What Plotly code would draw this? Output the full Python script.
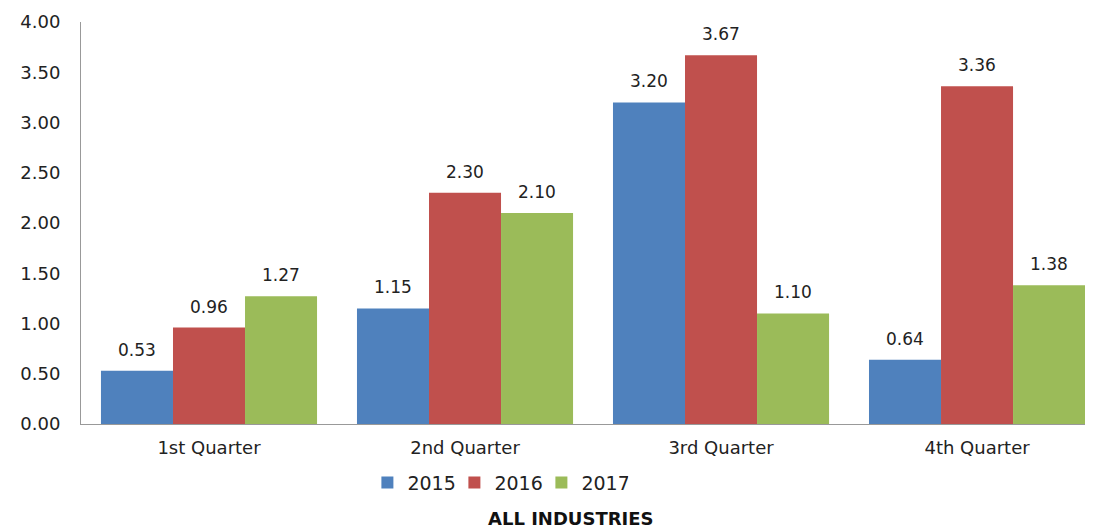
import plotly.graph_objects as go

quarters = ["1st Quarter", "2nd Quarter", "3rd Quarter", "4th Quarter"]
years = ["2015", "2016", "2017"]
v2015 = [0.53, 1.15, 3.20, 0.64]
v2016 = [0.96, 2.30, 3.67, 3.36]
v2017 = [1.27, 2.10, 1.10, 1.38]
colors = ["#4F81BD", "#C0504D", "#9BBB59"]

FONT = "DejaVu Sans"
BAR_PX = 72  # width of a single bar on screen, used to place value labels

fig = go.Figure()
labels = []
for i, (name, vals, col) in enumerate(zip(years, [v2015, v2016, v2017], colors)):
    fig.add_trace(go.Bar(x=quarters, y=vals, name=name, marker_color=col,
                         marker_line_width=0))
    for q, v in zip(quarters, vals):
        labels.append(dict(x=q, y=v, xref="x", yref="y", text=f"{v:.2f}",
                           showarrow=False, xshift=(i - 1) * BAR_PX, yshift=21,
                           font=dict(size=17, color="#222", family=FONT)))

labels.append(dict(text="<b>ALL INDUSTRIES</b>", x=0.484, xref="paper", xanchor="center",
                   y=-0.234, yref="paper", yanchor="middle", showarrow=False,
                   font=dict(size=18, family=FONT, color="#111")))

fig.update_layout(
    width=1085, height=521,
    margin=dict(l=73, r=0, t=14, b=105),
    plot_bgcolor="white", paper_bgcolor="white",
    barmode="group", bargap=0.156, bargroupgap=0,
    font=dict(family=FONT, size=17, color="#222"),
    legend=dict(orientation="h", x=0.283, xanchor="left", y=-0.146, yanchor="middle",
                font=dict(size=19), traceorder="normal", itemwidth=30,
                entrywidth=42),
    annotations=labels,
)
fig.update_xaxes(range=[-0.5, 3.453], showline=True, linecolor="#999", linewidth=1,
                 ticks="", ticklabelstandoff=7, tickfont=dict(size=18), automargin=False)
fig.update_yaxes(range=[0, 4], dtick=0.5, tickformat=".2f", showgrid=False,
                 showline=True, linecolor="#999", linewidth=1, zeroline=False,
                 ticks="", ticklabelstandoff=16, tickfont=dict(size=18), automargin=False)

fig.write_html("out.html")
